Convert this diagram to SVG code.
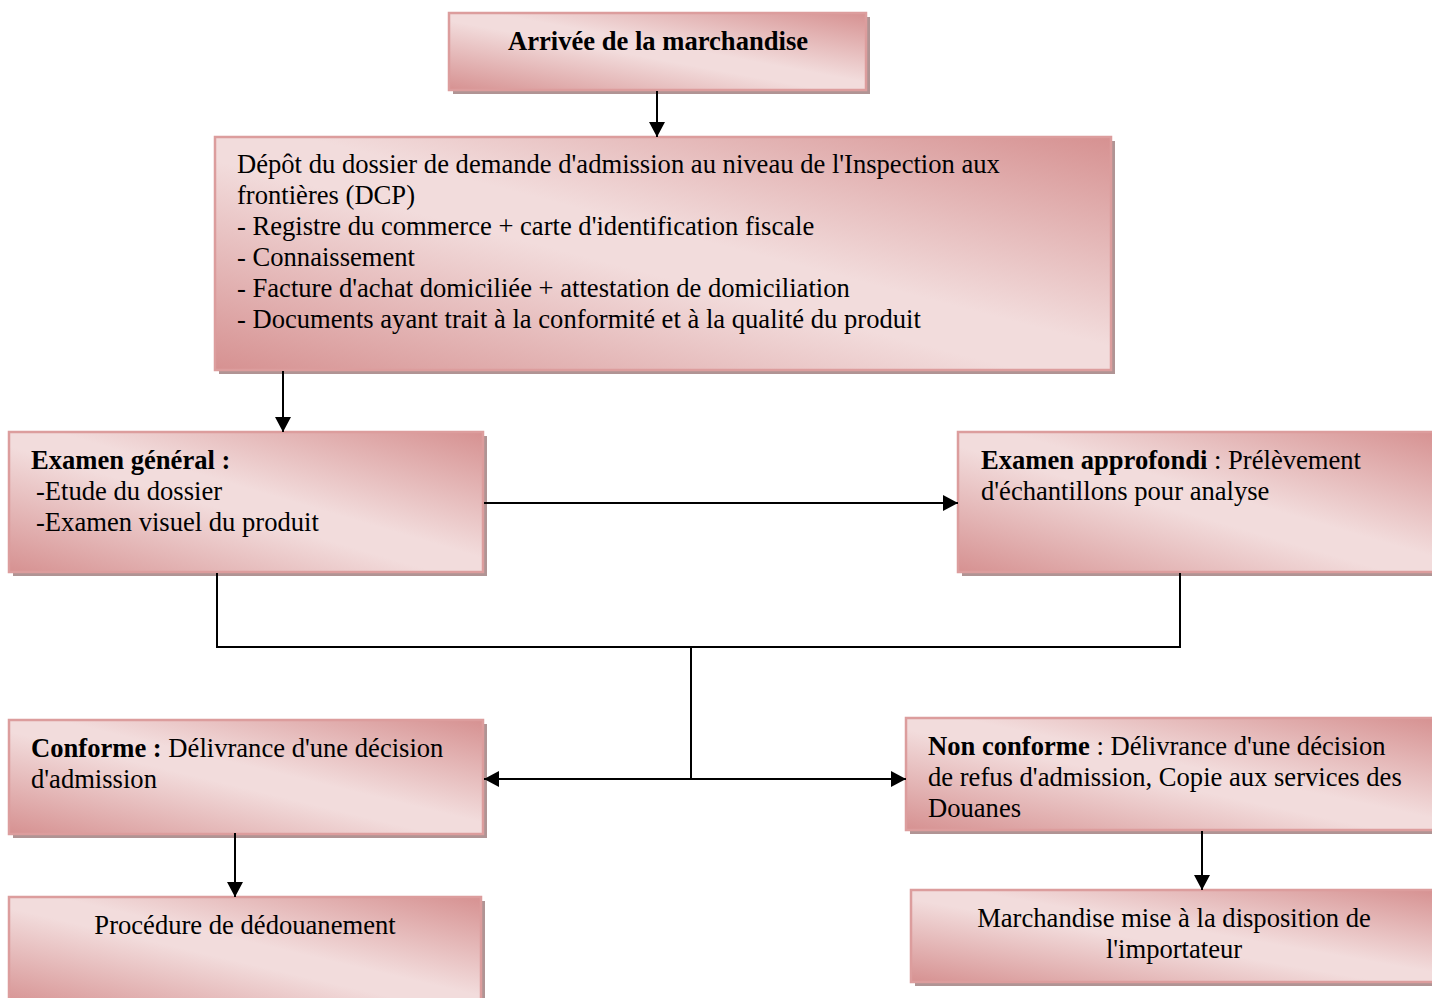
<svg xmlns="http://www.w3.org/2000/svg" width="1432" height="998" viewBox="0 0 1432 998">
<style>
.sh{fill:#b09494}
.bx{fill:url(#g);stroke:#dc9d9d;stroke-width:2.5}
text{font-family:'Liberation Serif','Times New Roman',serif;font-size:26.6px;fill:#000}
.b{font-weight:bold}
.c{text-anchor:middle}
.ln{fill:none;stroke:#000;stroke-width:2}
</style>
<defs>
<linearGradient id="g" x1="0" y1="1" x2="1" y2="0">
<stop offset="0" stop-color="#d69191"/>
<stop offset="0.45" stop-color="#f2dcdc"/>
<stop offset="0.55" stop-color="#f2dcdc"/>
<stop offset="1" stop-color="#d69191"/>
</linearGradient>
<marker id="ah" markerUnits="userSpaceOnUse" markerWidth="15" markerHeight="16" refX="15" refY="8" orient="auto-start-reverse">
<path d="M0,0 L15,8 L0,16 z" fill="#000"/>
</marker>
</defs>

<g id="n1">
<rect class="sh" x="453" y="17" width="417" height="77"/>
<rect class="bx" x="449" y="13" width="417" height="77"/>
<text class="b c" x="658" y="50">Arrivée de la marchandise</text>
</g>

<g id="n2">
<rect class="sh" x="219" y="141" width="896" height="233"/>
<rect class="bx" x="215" y="137" width="896" height="233"/>
<text x="237" y="173">Dépôt du dossier de demande d'admission au niveau de l'Inspection aux</text>
<text x="237" y="204">frontières (DCP)</text>
<text x="237" y="235">- Registre du commerce + carte d'identification fiscale</text>
<text x="237" y="266">- Connaissement</text>
<text x="237" y="297">- Facture d'achat domiciliée + attestation de domiciliation</text>
<text x="237" y="328">- Documents ayant trait à la conformité et à la qualité du produit</text>
</g>

<g id="n3">
<rect class="sh" x="13" y="436" width="474" height="140"/>
<rect class="bx" x="9" y="432" width="474" height="140"/>
<text class="b" x="31" y="469">Examen général :</text>
<text x="36" y="500">-Etude du dossier</text>
<text x="36" y="531">-Examen visuel du produit</text>
</g>

<g id="n4">
<rect class="sh" x="962" y="436" width="480" height="140"/>
<rect class="bx" x="958" y="432" width="480" height="140"/>
<text x="981" y="469"><tspan class="b">Examen approfondi</tspan> : Prélèvement</text>
<text x="981" y="500">d'échantillons pour analyse</text>
</g>

<g id="n5">
<rect class="sh" x="13" y="724" width="474" height="114"/>
<rect class="bx" x="9" y="720" width="474" height="114"/>
<text x="31" y="757"><tspan class="b">Conforme :</tspan> Délivrance d'une décision</text>
<text x="31" y="788">d'admission</text>
</g>

<g id="n6">
<rect class="sh" x="910" y="722" width="530" height="112"/>
<rect class="bx" x="906" y="718" width="530" height="112"/>
<text x="928" y="755"><tspan class="b">Non conforme</tspan> : Délivrance d'une décision</text>
<text x="928" y="786">de refus d'admission, Copie aux services des</text>
<text x="928" y="817">Douanes</text>
</g>

<g id="n7">
<rect class="sh" x="13" y="901" width="472" height="110"/>
<rect class="bx" x="9" y="897" width="472" height="110"/>
<text class="c" x="245" y="934">Procédure de dédouanement</text>
</g>

<g id="n8">
<rect class="sh" x="915" y="894" width="525" height="92"/>
<rect class="bx" x="911" y="890" width="525" height="92"/>
<text class="c" x="1174" y="927">Marchandise mise à la disposition de</text>
<text class="c" x="1174" y="958">l'importateur</text>
</g>

<g id="connectors">
<line class="ln" x1="657" y1="91" x2="657" y2="137" marker-end="url(#ah)"/>
<line class="ln" x1="283" y1="371" x2="283" y2="432" marker-end="url(#ah)"/>
<line class="ln" x1="484" y1="503" x2="958" y2="503" marker-end="url(#ah)"/>
<polyline class="ln" points="217,573 217,647 1180,647 1180,573"/>
<line class="ln" x1="691" y1="647" x2="691" y2="779"/>
<line class="ln" x1="484" y1="779" x2="906" y2="779" stroke-width="3" marker-start="url(#ah)" marker-end="url(#ah)"/>
<line class="ln" x1="235" y1="833" x2="235" y2="897" marker-end="url(#ah)"/>
<line class="ln" x1="1202" y1="831" x2="1202" y2="890" marker-end="url(#ah)"/>
</g>
</svg>
